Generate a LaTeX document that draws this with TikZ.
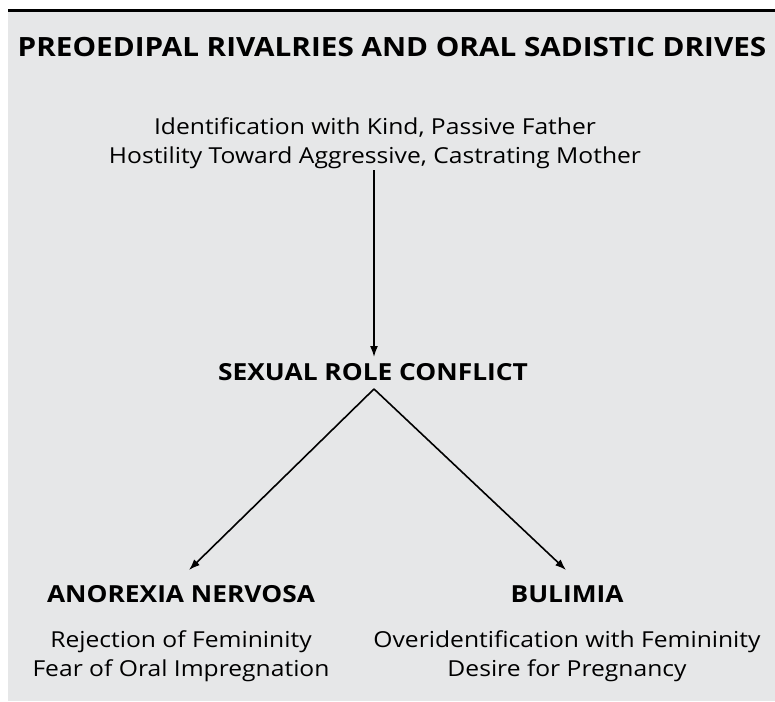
\documentclass[tikz,border=0pt]{standalone}
\usepackage{fontspec}
\setmainfont[FakeStretch=1.12]{Open Sans}
\usetikzlibrary{arrows.meta}
\definecolor{panel}{HTML}{E6E7E8}
\tikzset{
  head/.style={font=\bfseries\fontsize{23.5}{28}\selectfont, inner sep=0pt},
  txt/.style={font=\fontsize{22}{29}\selectfont, align=center, inner sep=0pt},
  link/.style={line width=1.6pt, -{Latex[length=11pt,width=8pt]}},
}
\begin{document}
\begin{tikzpicture}[x=1pt, y=-1pt]
\useasboundingbox (0,0) rectangle (775,701);
\fill[panel] (8,11) rectangle (775,701);
\draw[line width=3pt] (8,11) -- (775,11);
\node[head, font=\bfseries\fontsize{26.5}{30}\selectfont] (title) at (392,47) {PREOEDIPAL RIVALRIES AND ORAL SADISTIC DRIVES};
\node[txt] (origin) at (375,143) {Identification with Kind, Passive Father\\Hostility Toward Aggressive, Castrating Mother};
\node[head] (conflict) at (373,372) {SEXUAL ROLE CONFLICT};
\node[head] (anorexia) at (181,594) {ANOREXIA NERVOSA};
\node[head] (bulimia) at (567,594) {BULIMIA};
\node[txt] (anodesc) at (181,656) {Rejection of Femininity\\Fear of Oral Impregnation};
\node[txt] (buldesc) at (567,656) {Overidentification with Femininity\\Desire for Pregnancy};
\coordinate (top) at (374,170);
\coordinate (apex) at (374,389);
\coordinate (lefttip) at (189,570);
\coordinate (righttip) at (566,570);
\draw[link] (top) -- (374,357);
\draw[link] (apex) -- (lefttip);
\draw[link] (apex) -- (righttip);
\end{tikzpicture}
\end{document}
